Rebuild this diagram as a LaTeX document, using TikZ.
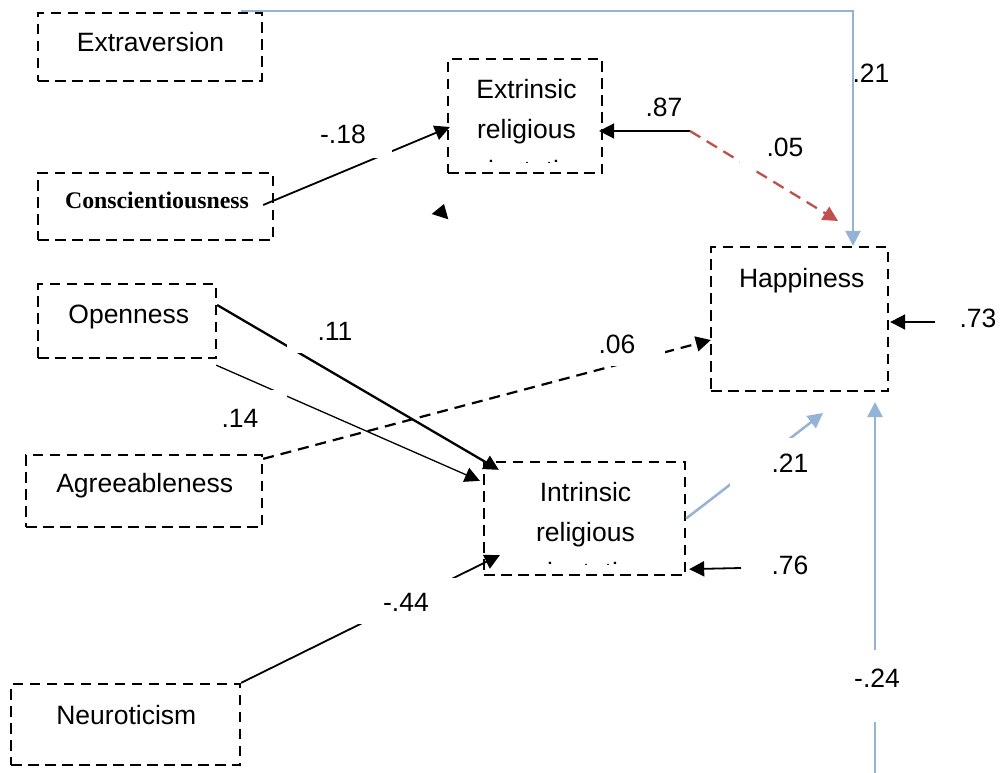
\documentclass[tikz,border=0pt]{standalone}
\usepackage{fontspec}
\setmainfont{Liberation Sans}
\newfontfamily\conscfont{Liberation Serif}
\usetikzlibrary{arrows.meta,calc}
\definecolor{pathblue}{RGB}{149,179,215}
\definecolor{pathred}{RGB}{192,80,77}
\begin{document}
\begin{tikzpicture}[x=1pt,y=-1pt,
  varbox/.style={draw, line width=2.3pt, dash pattern=on 10.5pt off 6.5pt, inner sep=0pt},
  lbl/.style={inner sep=0pt, anchor=base, font=\fontsize{26.5}{32}\selectfont},
  coef/.style={lbl, fill=white},
  tip/.style={-{Triangle[length=15pt,width=15pt]}},
  link/.style={tip, line width=1.8pt},
  bluelink/.style={tip, draw=pathblue, line width=2.5pt},
  redlink/.style={tip, draw=pathred, line width=2.3pt, dash pattern=on 12pt off 7.5pt},
  dashlink/.style={tip, line width=2.2pt, dash pattern=on 11pt off 7pt}]
\useasboundingbox (0,0) rectangle (1001,773);
\fill[white] (0,0) rectangle (1001,773);

% variable boxes
\node[varbox, minimum width=224pt, minimum height=68pt]  (extra) at (150,47) {};
\node[varbox, minimum width=235pt, minimum height=67pt]  (consc) at (155.5,206.5) {};
\node[varbox, minimum width=178pt, minimum height=74pt]  (open)  at (127,321) {};
\node[varbox, minimum width=236pt, minimum height=72pt]  (agree) at (144,491) {};
\node[varbox, minimum width=229pt, minimum height=81pt]  (neuro) at (125.5,724.5) {};
\node[varbox, minimum width=154pt, minimum height=114pt] (extr)  at (525,116) {};
\node[varbox, minimum width=201pt, minimum height=113pt] (intr)  at (584.5,518.5) {};
\node[varbox, minimum width=177pt, minimum height=144pt] (happy) at (799.5,319) {};

% box texts
\node[lbl] (extra-t) at (150.5,52) {Extraversion};
\node[lbl, font=\conscfont\bfseries\fontsize{23.8}{28}\selectfont] (consc-t) at (157,208) {Conscientiousness};
\node[lbl] (open-t)  at (128.8,323) {Openness};
\node[lbl] (agree-t) at (144.7,492) {Agreeableness};
\node[lbl] (neuro-t) at (126.3,724) {Neuroticism};
\node[lbl] (happy-t) at (801.7,287) {Happiness};
\node[lbl] (extr-t1) at (526.5,99)  {Extrinsic};
\node[lbl] (extr-t2) at (526.5,139) {religious};
\node[lbl] (intr-t1) at (585.5,501) {Intrinsic};
\node[lbl] (intr-t2) at (585.5,541) {religious};
% third lines run past the box bottom and are cut off
\begin{scope}
  \clip (450,157) rectangle (600,162.5);
  \node[lbl] (extr-t3) at (526.5,179) {orientation};
\end{scope}
\begin{scope}
  \clip (486,559) rectangle (683,564.5);
  \node[lbl] (intr-t3) at (585.5,581) {orientation};
\end{scope}

% free ends
\coordinate (fork)   at (690,131);
\coordinate (redend) at (838,221);
\coordinate (intend) at (823,413);
\coordinate (e76)    at (741,568);
\coordinate (e73)    at (935,322);
\coordinate (e24)    at (875,773);
\coordinate (e24end) at (875,402);

% paths
\draw[bluelink] ($(extra.north east)+(-22,-1)$) -| ($(happy.north)+(53.5,0)$);
\draw[link] ($(consc.east)+(-11,-1.5)$) -- ($(extr.west)+(3,11)$);
\draw[link] (fork) -- ($(extr.east)+(-4,15)$);
\draw[redlink] (fork) -- (redend);
\draw[tip, line width=2.3pt] ($(open.east)+(0,-16)$) -- ($(intr.north west)+(16,9)$);
\draw[tip, line width=1.3pt] ($(open.south east)+(-1,6)$) -- ($(intr.north west)+(-3,20)$);
\draw[dashlink] ($(agree.north east)+(0,5)$) -- ($(happy.west)+(1,21)$);
\draw[bluelink] (intr.east) -- (intend);
\draw[link] (e76) -- ($(intr.south east)+(3,-7)$);
\draw[link] (e73) -- ($(happy.east)+(1,3)$);
\draw[bluelink] (e24) -- (e24end);
\draw[link] (neuro.north east) -- ($(intr.south west)+(17,-21)$);

% loose arrowhead
\fill (431.7,214) -- (444,204) -- (448.3,219.3) -- cycle;

% path coefficients
\node[lbl] (c21a) at (871,83) {.21};
\node[coef, text height=31pt, text depth=15pt, minimum width=98pt]  (c18) at (343,143) {-.18};
\node[coef, text height=20pt, text depth=10pt, minimum width=60pt]  (c87) at (664,117) {.87};
\node[coef, text height=33pt, text depth=13pt, minimum width=90pt]  (c05) at (785,157) {.05};
\node[coef, text height=31pt, text depth=12.5pt, minimum width=96pt] (c11) at (335,340) {.11};
\node[coef, text height=37pt, text depth=15pt, minimum width=94pt]  (c14) at (240,427) {.14};
\node[coef, text height=29pt, text depth=13pt, minimum width=96pt]  (c06) at (617,353) {.06};
\node[lbl] (c73) at (978,327) {.73};
\node[coef, text height=34pt, text depth=16pt, minimum width=120pt] (c21b) at (790,472) {.21};
\node[coef, text height=20pt, text depth=8pt, minimum width=60pt]   (c76) at (790,574) {.76};
\node[coef, text height=33pt, text depth=13pt, minimum width=110pt] (c44) at (406,611) {-.44};
\node[coef, text height=37pt, text depth=35pt, minimum width=60pt]  (c24) at (877,687) {-.24};
\end{tikzpicture}
\end{document}
